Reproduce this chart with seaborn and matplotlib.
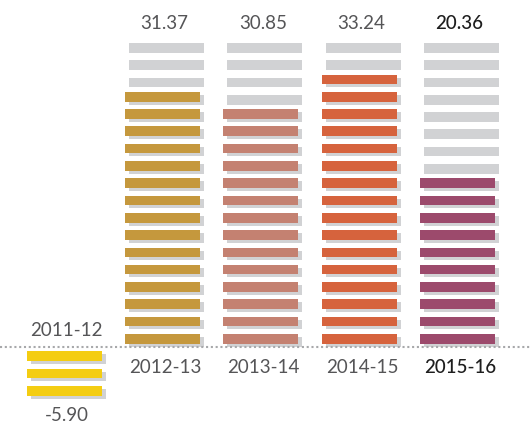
import numpy as np
import pandas as pd
import matplotlib
matplotlib.use('Agg')
import matplotlib.pyplot as plt
import seaborn as sns

#Chart data
years = ['2011-12', '2012-13', '2013-14', '2014-15', '2015-16']
values = [-5.90, 31.37, 30.85, 33.24, 20.36]
#number of dashes in each column (negative = below the line)
dashes = [-3, 15, 14, 16, 10]
colours = ['#F4CD12', '#C5983D', '#C48171', '#D6633D', '#9C4A6C']
total_slots = 18

sns.set_theme(style='white')
plt.rcParams['font.family'] = ['Lato', 'DejaVu Sans']

fig = plt.figure(figsize=(5.3, 4.28), dpi=100)
ax = fig.add_axes([0, 0, 1, 1])

bar_w = 0.763
bar_h = 0.56
dx, dy = 0.041, -0.174
shadow = '#D1D2D4'

#Building the dash table
rows = []
for i, (yr, n) in enumerate(zip(years, dashes)):
    if n >= 0:
        for k in range(total_slots):
            rows.append({'year': yr, 'x': i, 'slot': k, 'filled': k < n})
    else:
        for k in range(1, -n + 1):
            rows.append({'year': yr, 'x': i, 'slot': -k, 'filled': True})
df = pd.DataFrame(rows)

#Drawing the dashes
for _, r in df.iterrows():
    ax.bar(r['x'] + dx, bar_h, bottom=r['slot'] - bar_h / 2 + dy, width=bar_w,
           color=shadow, linewidth=0)
    if r['filled']:
        ax.bar(r['x'], bar_h, bottom=r['slot'] - bar_h / 2, width=bar_w,
               color=colours[r['x']], linewidth=0)

#Dotted baseline
ax.axhline(-0.46, color='#A7A8AA', linestyle=(0, (1, 1.3)), linewidth=1.5)

#Labels
for i, (yr, v) in enumerate(zip(years, values)):
    last = i == len(years) - 1
    col = '#1E1E1E' if last else '#555557'
    wt = 'medium' if last else 'normal'
    if v >= 0:
        ax.text(i + 0.02, 18.26, f'{v:.2f}', ha='center', va='center',
                fontsize=13.5, color=col, fontweight=wt)
        ax.text(i + 0.03, -1.65, yr, ha='center', va='center',
                fontsize=13.5, color=col, fontweight=wt)
    else:
        ax.text(i + 0.025, 0.5, yr, ha='center', va='center',
                fontsize=13.5, color=col, fontweight=wt)
        ax.text(i + 0.025, -4.41, f'{v:.2f}', ha='center', va='center',
                fontsize=13.5, color=col, fontweight=wt)

ax.set_xlim(-0.653, 4.739)
ax.set_ylim(-5.159, 19.595)
ax.axis('off')
plt.savefig('out.png', dpi=100)
